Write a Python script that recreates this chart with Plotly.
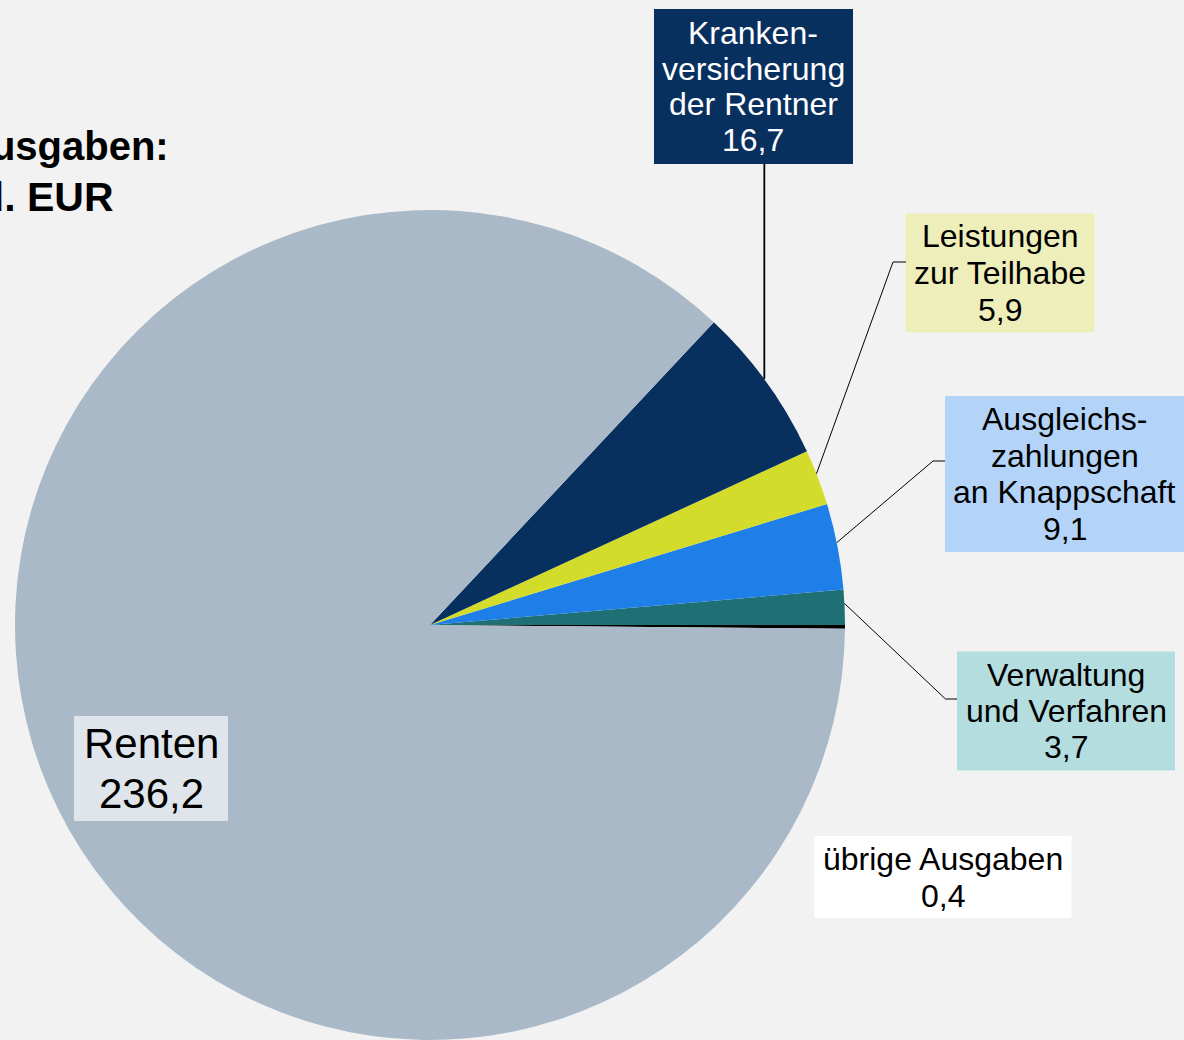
import math
import plotly.graph_objects as go

# ---------------- data ----------------
categories = [
    "übrige Ausgaben",
    "Verwaltung und Verfahren",
    "Ausgleichszahlungen an Knappschaft",
    "Leistungen zur Teilhabe",
    "Krankenversicherung der Rentner",
    "Renten",
]
values = [0.4, 3.7, 9.1, 5.9, 16.7, 236.2]
label_lines = [
    ["übrige Ausgaben"],
    ["Verwaltung", "und Verfahren"],
    ["Ausgleichs-", "zahlungen", "an Knappschaft"],
    ["Leistungen", "zur Teilhabe"],
    ["Kranken-", "versicherung", "der Rentner"],
    ["Renten"],
]
slice_colors = ["#000000", "#1F7074", "#1E7FE9", "#D4DC2B", "#08305F", "#A9B9C8"]
title_lines = ["Ausgaben:", "272,0 Mrd. EUR"]

# ---------------- styles / layout (pixels) ----------------
W, H = 1184, 1040
BG = "#F2F2F2"
CX, CY, R = 430, 625, 415
FONT = "Liberation Sans, Arial, sans-serif"

# label boxes: center x, center y, width, height, bg color, text color, font size, line spacing
boxes = [
    (943, 877, 257, 82, "#FFFFFF", "#000000", 32, 37),
    (1066, 711, 218, 119, "#B4DDDF", "#000000", 32, 36),
    (1064.5, 474, 239, 156, "#B3D4F8", "#000000", 32, 36.5),
    (1000, 273, 189, 119, "#EEEEBB", "#000000", 32, 37),
    (753.5, 86.5, 199, 155, "#08305F", "#FFFFFF", 32, 35.5),
    (151, 768.5, 154, 105, "#DFE5EA", "#000000", 42, 50.5),
]
# leader-line elbows (None = no leader line); KVdR line goes straight up to box bottom
elbows = [
    None,
    [(945.5, 699), (957, 699)],
    [(933, 461), (945, 461)],
    [(893, 262), (906, 262)],
    "vertical",
    None,
]
leader_widths = [0, 1, 1, 1, 1.8, 0]


def px(x):
    return x / W


def py(y):
    return 1 - y / H


def fmt(v):
    return f"{v:.1f}".replace(".", ",")


fig = go.Figure(
    go.Pie(
        labels=categories,
        values=values,
        sort=False,
        direction="counterclockwise",
        rotation=90,
        marker=dict(colors=slice_colors, line=dict(width=0)),
        textinfo="none",
        hoverinfo="label+value",
        showlegend=False,
        domain=dict(x=[px(CX - R), px(CX + R)], y=[py(CY + R), py(CY - R)]),
    )
)

annotations = []
shapes = []
total = sum(values)
cum = 0.0
for i, v in enumerate(values):
    mid = (cum + v / 2) / total * 2 * math.pi
    cum += v
    cx, cy, bw, bh, bg, tc, fs, sp = boxes[i]
    # label box
    shapes.append(
        dict(type="rect", xref="paper", yref="paper", layer="above",
             x0=px(cx - bw / 2), x1=px(cx + bw / 2),
             y0=py(cy + bh / 2), y1=py(cy - bh / 2),
             fillcolor=bg, line=dict(width=0))
    )
    lines = label_lines[i] + [fmt(v)]
    n = len(lines)
    for k, t in enumerate(lines):
        ly = cy + (k - (n - 1) / 2) * sp
        annotations.append(
            dict(x=px(cx), y=py(ly), xref="paper", yref="paper",
                 xanchor="center", yanchor="middle", text=t, showarrow=False,
                 font=dict(family=FONT, size=fs, color=tc))
        )
    # leader line from the slice edge at its mid-angle
    ex = CX + R * math.cos(mid)
    ey = CY - R * math.sin(mid)
    el = elbows[i]
    if el is None:
        continue
    if el == "vertical":
        pts = [(ex, ey), (ex, cy + bh / 2)]
    else:
        pts = [(ex, ey)] + el
    path = "M " + " L ".join(f"{px(x)},{py(y)}" for x, y in pts)
    shapes.append(
        dict(type="path", path=path, xref="paper", yref="paper",
             line=dict(color="#000000", width=leader_widths[i]))
    )

# title (partly cut off at the left edge, as in the original)
annotations.append(
    dict(x=px(171), y=py(146), xref="paper", yref="paper", xanchor="right",
         yanchor="middle", text=f"<b>{title_lines[0]}</b>", showarrow=False,
         font=dict(family=FONT, size=40, color="#000000"))
)
annotations.append(
    dict(x=px(116), y=py(197), xref="paper", yref="paper", xanchor="right",
         yanchor="middle", text=f"<b>{title_lines[1]}</b>", showarrow=False,
         font=dict(family=FONT, size=41, color="#000000"))
)

fig.update_layout(
    width=W, height=H,
    margin=dict(l=0, r=0, t=0, b=0),
    paper_bgcolor=BG, plot_bgcolor=BG,
    annotations=annotations, shapes=shapes,
)

fig.write_html(
    "out.html",
    config={"displayModeBar": False},
    post_script="document.body.style.margin='0';document.body.style.background='#F2F2F2';",
)
